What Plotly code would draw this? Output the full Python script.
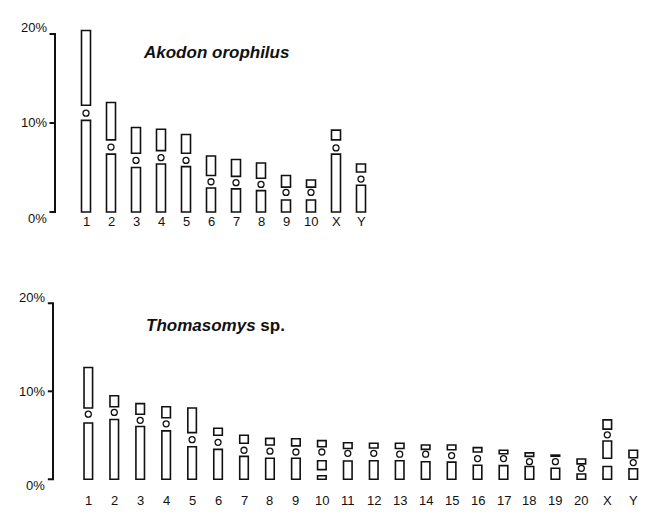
import plotly.graph_objects as go

W, H = 645, 517

# ---------------- data (percent of haploid genome length) ----------------
y_tick_vals = [0, 10, 20]
y_tick_text = ["0%", "10%", "20%"]

akodon_labels = ["1", "2", "3", "4", "5", "6", "7", "8", "9", "10", "X", "Y"]
akodon_upper_end = [20.4, 12.3, 9.5, 9.3, 8.7, 6.3, 5.9, 5.5, 4.1, 3.6, 9.2, 5.4]
akodon_upper_start = [12.0, 8.1, 6.6, 6.9, 6.6, 4.1, 4.0, 3.8, 2.8, 2.8, 8.1, 4.5]
akodon_centromere = [11.1, 7.3, 5.8, 6.1, 5.8, 3.4, 3.3, 3.1, 2.2, 2.2, 7.2, 3.7]
akodon_lower_end = [10.3, 6.5, 5.0, 5.4, 5.1, 2.7, 2.6, 2.4, 1.35, 1.35, 6.5, 3.0]
akodon_gap_top = [None] * 12
akodon_gap_bottom = [None] * 12

thom_labels = ["1", "2", "3", "4", "5", "6", "7", "8", "9", "10", "11", "12",
               "13", "14", "15", "16", "17", "18", "19", "20", "X", "Y"]
thom_upper_end = [12.7, 9.5, 8.6, 8.25, 8.1, 5.8, 5.0, 4.65, 4.6, 4.4, 4.15, 4.1,
                  4.1, 3.9, 3.9, 3.6, 3.3, 3.0, 2.75, 2.3, 6.75, 3.3]
thom_upper_start = [8.1, 8.25, 7.4, 7.0, 5.3, 5.0, 4.1, 3.9, 3.8, 3.7, 3.5, 3.55,
                    3.5, 3.4, 3.35, 3.1, 2.9, 2.6, 2.62, 1.75, 5.7, 2.45]
thom_centromere = [7.4, 7.6, 6.7, 6.3, 4.5, 4.2, 3.3, 3.2, 3.1, 3.1, 2.95, 2.95,
                   2.85, 2.85, 2.7, 2.35, 2.35, 2.0, 2.0, 1.25, 5.05, 1.9]
thom_lower_end = [6.4, 6.8, 6.0, 5.5, 3.7, 3.4, 2.6, 2.4, 2.4, 2.1, 2.08, 2.1,
                  2.1, 2.0, 1.95, 1.6, 1.55, 1.45, 1.25, 0.6, 4.35, 1.2]
thom_gap_top = [None] * 9 + [1.1] + [None] * 10 + [2.4, None]
thom_gap_bottom = [None] * 9 + [0.4] + [None] * 10 + [1.45, None]

INK = "#111111"
FONT = "Liberation Sans, Arial, sans-serif"

fig = go.Figure()


def add_panel(labels, up_end, up_start, cen, low_end, gap_top, gap_bot,
              xa, ya, bar_w, axis_x, tick_len, label_shift, title_html, title_xy):
    xs = list(range(len(labels)))
    bar_style = dict(color="white", line=dict(color=INK, width=1.6))
    # upper arms
    fig.add_trace(go.Bar(x=xs, y=[e - s for e, s in zip(up_end, up_start)],
                         base=up_start, width=bar_w, marker=bar_style,
                         xaxis=xa, yaxis=ya, showlegend=False, hoverinfo="skip"))
    # lower arms (down to gap or to zero)
    low_base = [g if g is not None else 0 for g in gap_top]
    fig.add_trace(go.Bar(x=xs, y=[e - b for e, b in zip(low_end, low_base)],
                         base=low_base, width=bar_w, marker=bar_style,
                         xaxis=xa, yaxis=ya, showlegend=False, hoverinfo="skip"))
    # distal piece below a gap
    gx = [i for i, g in enumerate(gap_bot) if g is not None]
    gy = [gap_bot[i] for i in gx]
    if gx:
        fig.add_trace(go.Bar(x=gx, y=gy, base=[0] * len(gx), width=bar_w,
                             marker=bar_style, xaxis=xa, yaxis=ya,
                             showlegend=False, hoverinfo="skip"))
    # centromeres
    fig.add_trace(go.Scatter(x=xs, y=cen, mode="markers",
                             marker=dict(symbol="circle", size=6, color="white",
                                         line=dict(color=INK, width=1.3)),
                             xaxis=xa, yaxis=ya, showlegend=False, hoverinfo="skip"))
    # scale bracket
    bx, by = [], []
    lo, hi = min(y_tick_vals), max(y_tick_vals)
    bx += [axis_x - tick_len, axis_x, axis_x, axis_x - tick_len, None]
    by += [hi, hi, lo, lo, None]
    for v in y_tick_vals:
        if v not in (lo, hi):
            bx += [axis_x - tick_len, axis_x, None]
            by += [v, v, None]
    fig.add_trace(go.Scatter(x=bx, y=by, mode="lines",
                             line=dict(color=INK, width=2),
                             xaxis=xa, yaxis=ya, showlegend=False, hoverinfo="skip"))
    shifts = {lo: -6, hi: 6}
    for v, t in zip(y_tick_vals, y_tick_text):
        fig.add_annotation(x=axis_x - tick_len, y=v, xref=xa, yref=ya, text=t,
                           showarrow=False, xanchor="right", yanchor="middle",
                           xshift=-1, yshift=shifts.get(v, 0),
                           font=dict(family=FONT, size=13, color=INK))
    for i, t in enumerate(labels):
        fig.add_annotation(x=i, y=0, xref=xa, yref=ya, text=t, showarrow=False,
                           xanchor="center", yanchor="middle", yshift=label_shift,
                           font=dict(family=FONT, size=13, color=INK))
    fig.add_annotation(x=title_xy[0] / W, y=1 - title_xy[1] / H, xref="paper",
                       yref="paper", text=title_html, showarrow=False,
                       xanchor="center", yanchor="middle",
                       font=dict(family=FONT, size=17, color=INK))


# top panel: chr1 at px 86, spacing 25; 0% at px 212, 8.9 px per %
add_panel(akodon_labels, akodon_upper_end, akodon_upper_start, akodon_centromere,
          akodon_lower_end, akodon_gap_top, akodon_gap_bottom,
          "x", "y", 0.36, -1.24, 0.22, -9,
          "<b><i>Akodon orophilus</i></b>", (216, 52))
# bottom panel: chr1 at px 88.3, spacing 25.95; 0% at px 479.3, 8.8 px per %
add_panel(thom_labels, thom_upper_end, thom_upper_start, thom_centromere,
          thom_lower_end, thom_gap_top, thom_gap_bottom,
          "x2", "y2", 0.33, -1.36, 0.2, -21,
          "<b><i>Thomasomys</i> sp.</b>", (215, 325))

top_px, bot_px = 20, 230
fig.update_layout(
    width=W, height=H,
    margin=dict(l=0, r=0, t=0, b=0),
    paper_bgcolor="white", plot_bgcolor="white",
    barmode="overlay",
    hovermode=False,
    xaxis=dict(domain=[0, 1], range=[-86 / 25, (W - 86) / 25], visible=False),
    yaxis=dict(domain=[(H - bot_px) / H, (H - top_px) / H],
               range=[(212 - bot_px) / 8.9, (212 - top_px) / 8.9], visible=False),
    xaxis2=dict(domain=[0, 1], range=[-88.3 / 25.95, (W - 88.3) / 25.95],
                visible=False, anchor="y2"),
    yaxis2=dict(domain=[(H - 512) / H, (H - 285) / H],
                range=[(479.3 - 512) / 8.8, (479.3 - 285) / 8.8],
                visible=False, anchor="x2"),
)

fig.write_html("out.html",
               config={"displayModeBar": False},
               post_script="document.body.style.margin='0';"
                           "document.body.style.overflow='hidden';")
